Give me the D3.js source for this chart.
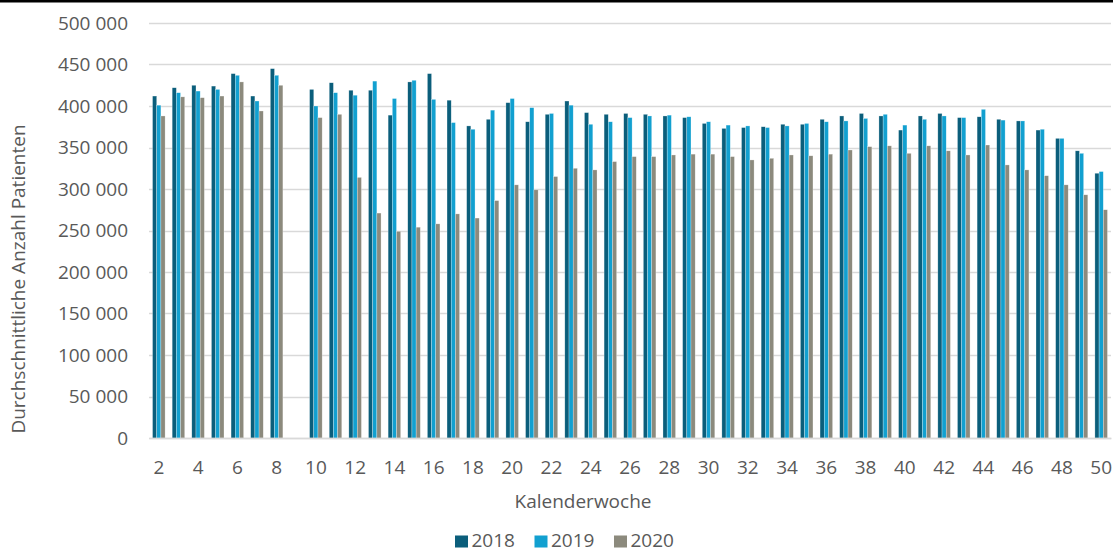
<!DOCTYPE html>
<html>
<head>
<meta charset="utf-8">
<script src="https://cdn.jsdelivr.net/npm/d3@7"></script>
<style>
  html, body { margin: 0; padding: 0; background: #fff; }
  svg text { font-family: "Open Sans", "Noto Sans", sans-serif; fill: #595959; }
</style>
</head>
<body>
<svg id="chart" width="1113" height="553"></svg>
<script>
// Calendar weeks 2..50 (week 9 has no data)
const weeks = d3.range(2, 51);
const seriesNames = ["2018", "2019", "2020"];
const seriesColors = ["#0b5e7b", "#12a0d0", "#8c8a7d"];

const values2018 = [412000, 422000, 425000, 424000, 439000, 412000, 445000, null, 420000, 428000,
  419000, 419000, 389000, 429000, 439000, 407000, 376000, 384000, 404000, 381000,
  390000, 406000, 392000, 390000, 391000, 390000, 388000, 386000, 379000, 373000,
  374000, 375000, 378000, 378000, 384000, 388000, 391000, 388000, 371000, 388000,
  391000, 386000, 387000, 384000, 382000, 371000, 361000, 346000, 319000];
const values2019 = [401000, 416000, 418000, 420000, 437000, 406000, 437000, null, 400000, 416000,
  413000, 430000, 409000, 431000, 408000, 380000, 372000, 395000, 409000, 398000,
  391000, 401000, 378000, 381000, 386000, 388000, 389000, 387000, 381000, 377000,
  376000, 374000, 376000, 379000, 381000, 382000, 385000, 390000, 377000, 384000,
  388000, 386000, 396000, 383000, 382000, 372000, 361000, 343000, 321000];
const values2020 = [388000, 411000, 410000, 412000, 429000, 394000, 425000, null, 386000, 390000,
  314000, 271000, 249000, 254000, 258000, 270000, 265000, 286000, 305000, 299000,
  315000, 325000, 323000, 333000, 339000, 339000, 341000, 342000, 342000, 339000,
  335000, 337000, 341000, 340000, 342000, 347000, 351000, 352000, 343000, 352000,
  346000, 341000, 353000, 329000, 323000, 316000, 305000, 293000, 275000];
const yTicks = [0, 50000, 100000, 150000, 200000, 250000, 300000, 350000, 400000, 450000, 500000];

const seriesValues = [values2018, values2019, values2020];

const svg = d3.select("#chart");
const plot = { left: 149, right: 1111, top: 23, bottom: 438 };
const fontSize = "19px";

// Thin black rule along the top edge
svg.append("rect").attr("x", 0).attr("y", 0).attr("width", 1113).attr("height", 2.5).attr("fill", "#000");

const x = d3.scaleBand().domain(weeks).range([plot.left, plot.right])
  .paddingInner(0.36).paddingOuter(0.18);
const xs = d3.scaleBand().domain(seriesNames).range([0, x.bandwidth()]);
const y = d3.scaleLinear().domain([0, 500000]).range([plot.bottom, plot.top]);

const fmt = d3.formatLocale({ decimal: ",", thousands: "\u00a0", grouping: [3], currency: ["", "€"] }).format(",d");

// Horizontal gridlines
svg.append("g").selectAll("line").data(yTicks).join("line")
  .attr("x1", plot.left).attr("x2", plot.right)
  .attr("y1", d => Math.round(y(d)) + 0.5).attr("y2", d => Math.round(y(d)) + 0.5)
  .attr("stroke", "#d9d9d9").attr("stroke-width", 1.3);

// Y axis labels
const yAxis = d3.axisLeft(y).tickValues(yTicks).tickFormat(fmt).tickSize(0).tickPadding(0);
const gy = svg.append("g").attr("transform", `translate(128,0)`).call(yAxis);
gy.select(".domain").remove();
gy.selectAll("text").attr("font-size", fontSize).attr("fill", "#595959")
  .style("font-family", '"Open Sans", sans-serif');

// Bars
const rows = weeks.map((w, i) => ({ week: w, vals: seriesValues.map(s => s[i]) }));
const groups = svg.append("g").selectAll("g").data(rows).join("g")
  .attr("transform", d => `translate(${x(d.week)},0)`);
groups.selectAll("rect")
  .data(d => seriesNames.map((name, k) => ({ name, k, v: d.vals[k] })).filter(e => e.v != null))
  .join("rect")
  .attr("x", e => xs(e.name))
  .attr("width", xs.bandwidth())
  .attr("y", e => y(e.v))
  .attr("height", e => y(0) - y(e.v))
  .attr("fill", e => seriesColors[e.k])
  .attr("stroke", "#ffffff").attr("stroke-opacity", 0.55).attr("stroke-width", 0.5);

// X axis: baseline and labels for even weeks
const xAxis = d3.axisBottom(x).tickValues(weeks.filter(w => w % 2 === 0)).tickSize(0).tickPadding(0);
const gx = svg.append("g").attr("transform", `translate(0,${plot.bottom})`).call(xAxis);
gx.select(".domain").attr("stroke", "#d9d9d9").attr("stroke-width", 1.3);
gx.selectAll("text").attr("font-size", fontSize).attr("fill", "#595959").attr("y", 23)
  .style("font-family", '"Open Sans", sans-serif');

// Axis titles
svg.append("text").attr("x", 583).attr("y", 508).attr("text-anchor", "middle")
  .attr("font-size", fontSize).text("Kalenderwoche");
svg.append("text").attr("transform", "translate(25,279) rotate(-90)").attr("text-anchor", "middle")
  .attr("font-size", fontSize).text("Durchschnittliche Anzahl Patienten");

// Legend
const legend = svg.append("g").selectAll("g").data(seriesNames).join("g")
  .attr("transform", (d, i) => `translate(${455 + i * 79.5},0)`);
legend.append("rect").attr("x", 0).attr("y", 535.5).attr("width", 13).attr("height", 12)
  .attr("fill", (d, i) => seriesColors[i]);
legend.append("text").attr("x", 16.5).attr("y", 547).attr("font-size", fontSize).text(d => d);
</script>
</body>
</html>
